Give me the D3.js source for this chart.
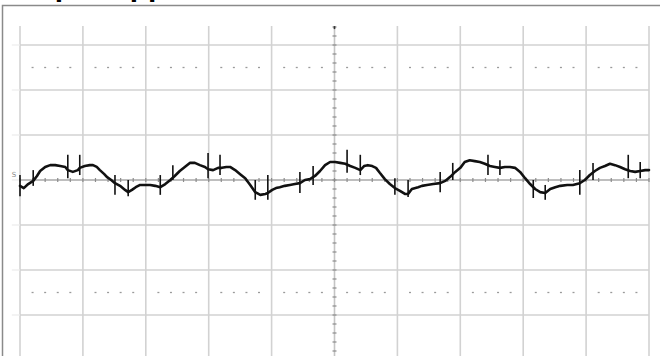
<!DOCTYPE html>
<html>
<head>
<meta charset="utf-8">
<script src="https://cdn.jsdelivr.net/npm/d3@7"></script>
<style>
  html, body { margin: 0; padding: 0; background: #fff; }
  svg { display: block; }
</style>
</head>
<body>
<div id="chart"></div>
<script>
// ---- data (time in divisions, voltage in divisions) ----
const title = "Output ripple";
const markerLabel = "S";

const traceTime = [0,0.06,0.13,0.21,0.27,0.32,0.40,0.48,0.56,0.64,0.72,0.76,0.84,0.92,0.95,1.03,1.11,1.16,1.22,1.27,
  1.34,1.38,1.45,1.51,1.59,1.67,1.72,1.78,1.84,1.91,1.99,2.07,2.15,2.23,2.31,2.39,2.46,2.54,2.62,2.70,
  2.78,2.86,2.94,2.99,3.07,3.15,3.21,3.28,3.34,3.42,3.50,3.58,3.66,3.74,3.82,3.90,3.94,4.01,4.07,4.13,
  4.21,4.29,4.37,4.45,4.53,4.61,4.69,4.77,4.85,4.93,5.01,5.09,5.17,5.25,5.33,5.41,5.47,5.53,5.60,5.66,
  5.72,5.80,5.88,5.96,6.04,6.12,6.17,6.23,6.33,6.39,6.47,6.57,6.68,6.76,6.84,6.92,7.00,7.07,7.15,7.23,
  7.31,7.39,7.47,7.55,7.63,7.71,7.79,7.87,7.95,8.03,8.11,8.19,8.27,8.35,8.43,8.51,8.59,8.70,8.79,8.90,
  8.98,9.06,9.14,9.22,9.30,9.38,9.46,9.54,9.62,9.70,9.78,9.86,9.94,10.0];
const traceVolt = [-0.13,-0.18,-0.09,-0.02,0.09,0.20,0.29,0.33,0.33,0.31,0.29,0.22,0.18,0.22,0.27,0.31,0.33,0.33,0.29,0.22,
  0.13,0.07,0,-0.07,-0.13,-0.22,-0.27,-0.22,-0.16,-0.11,-0.11,-0.11,-0.13,-0.16,-0.09,0,0.09,0.20,0.29,0.38,
  0.38,0.33,0.29,0.24,0.22,0.27,0.27,0.29,0.29,0.22,0.13,0.04,-0.11,-0.27,-0.33,-0.31,-0.29,-0.22,-0.18,-0.16,
  -0.13,-0.11,-0.09,-0.07,0,0.02,0.09,0.20,0.33,0.40,0.40,0.38,0.36,0.31,0.27,0.22,0.31,0.33,0.31,0.27,
  0.16,0.02,-0.09,-0.18,-0.24,-0.31,-0.31,-0.20,-0.16,-0.13,-0.11,-0.09,-0.07,-0.02,0.07,0.18,0.27,0.40,0.44,0.42,
  0.40,0.36,0.31,0.29,0.27,0.29,0.29,0.27,0.18,0.04,-0.09,-0.20,-0.27,-0.29,-0.20,-0.16,-0.13,-0.11,-0.11,-0.07,
  0,0.11,0.20,0.27,0.31,0.36,0.33,0.29,0.24,0.20,0.18,0.20,0.22,0.22];

const spikeTime = [0,0.21,0.76,0.95,1.51,1.72,2.23,2.43,2.99,3.18,3.74,3.94,4.45,4.66,5.20,5.41,5.96,6.17,6.68,6.88,7.44,7.63,8.16,8.35,8.90,9.11,9.67,9.86];
const spikeHigh = [0.11,0.22,0.56,0.56,0.11,0,0.11,0.33,0.60,0.56,0,0.11,0.18,0.31,0.67,0.56,0.04,0,0.18,0.38,0.56,0.44,0,-0.11,0.22,0.38,0.56,0.40];
const spikeLow  = [-0.36,-0.13,0.04,0.11,-0.33,-0.36,-0.33,0,0.04,0.11,-0.44,-0.44,-0.29,-0.11,0.16,0.11,-0.33,-0.38,-0.27,0,0.11,0.11,-0.40,-0.44,-0.33,0,0.04,0.04];

const majorX = [0,1,2,3,4,5,6,7,8,9,10];
const majorY = [-3,-2,-1,0,1,2,3];
const dottedY = [-2.5, 2.5];

// ---- drawing ----
const W = 660, H = 356;
const svg = d3.select("#chart").append("svg").attr("width", W).attr("height", H);
svg.append("rect").attr("width", W).attr("height", H).attr("fill", "#fff");

const x = d3.scaleLinear().domain([0, 10]).range([20, 649]);
const y = d3.scaleLinear().domain([-4, 4]).range([360, 0]);

// partially visible title (cut off at top, as in the source)
svg.append("text").attr("x", 3).attr("y", -4)
  .attr("font-family", "Liberation Sans, Arial, sans-serif").attr("font-weight", "bold")
  .attr("font-size", 30).attr("fill", "#000").text(title);

// document frame
svg.append("path").attr("d", "M2.5,356 V5.5 H660").attr("fill", "none")
  .attr("stroke", "#8a8a8a").attr("stroke-width", 1.5);

const grid = svg.append("g");
const gridTop = 3.42;

grid.selectAll("line.vx").data(majorX.filter(d => d !== 5)).join("line")
  .attr("x1", d => x(d)).attr("x2", d => x(d))
  .attr("y1", y(gridTop)).attr("y2", H)
  .attr("stroke", "#d2d2d2").attr("stroke-width", 1.6);

grid.selectAll("line.hy").data(majorY.filter(d => d !== 0)).join("line")
  .attr("x1", x(0)).attr("x2", x(10))
  .attr("y1", d => y(d)).attr("y2", d => y(d))
  .attr("stroke", "#d2d2d2").attr("stroke-width", 1.6);

grid.selectAll("line.ext").data(majorY).join("line")
  .attr("x1", x(-0.13)).attr("x2", x(0))
  .attr("y1", d => y(d)).attr("y2", d => y(d))
  .attr("stroke", "#ececec").attr("stroke-width", 1.2);

const minorX = d3.range(0, 50).map(i => i * 0.2).filter(v => Math.abs(v - Math.round(v)) > 0.01);
dottedY.forEach(dv => {
  grid.selectAll(null).data(minorX).join("line")
    .attr("x1", d => x(d) - 1).attr("x2", d => x(d) + 1)
    .attr("y1", y(dv)).attr("y2", y(dv))
    .attr("stroke", "#9a9a9a").attr("stroke-width", 1.3);
});

grid.append("line").attr("x1", x(0)).attr("x2", x(10)).attr("y1", y(0)).attr("y2", y(0))
  .attr("stroke", "#a8a8a8").attr("stroke-width", 1.6);
grid.append("line").attr("x1", x(5)).attr("x2", x(5)).attr("y1", y(gridTop)).attr("y2", H)
  .attr("stroke", "#c4c4c4").attr("stroke-width", 1.6);

const minorXAll = d3.range(0, 51).map(i => i * 0.2);
grid.selectAll(null).data(minorXAll).join("line")
  .attr("x1", d => x(d)).attr("x2", d => x(d))
  .attr("y1", y(0) - 2).attr("y2", y(0) + 2)
  .attr("stroke", "#8c8c8c").attr("stroke-width", 1.2);
const minorYAll = d3.range(-20, 18).map(i => i * 0.2);
grid.selectAll(null).data(minorYAll).join("line")
  .attr("x1", x(5) - 2).attr("x2", x(5) + 2)
  .attr("y1", d => y(d)).attr("y2", d => y(d))
  .attr("stroke", "#8c8c8c").attr("stroke-width", 1.2);
grid.append("line").attr("x1", x(5)).attr("x2", x(5)).attr("y1", y(gridTop)).attr("y2", y(gridTop) + 3)
  .attr("stroke", "#333").attr("stroke-width", 1.6);

svg.append("text").attr("x", x(-0.13)).attr("y", y(0.07))
  .attr("font-family", "DejaVu Sans, sans-serif").attr("font-size", 7)
  .attr("fill", "#888").text(markerLabel);

// trace
const pts = traceTime.map((t, i) => [t, traceVolt[i]]);
const line = d3.line().x(d => x(d[0])).y(d => y(d[1]));
svg.append("path").datum(pts).attr("d", line)
  .attr("fill", "none").attr("stroke", "#111").attr("stroke-width", 2.6)
  .attr("stroke-linejoin", "round").attr("stroke-linecap", "round");

// switching spikes
svg.append("g").selectAll("line").data(spikeTime).join("line")
  .attr("x1", d => x(d)).attr("x2", d => x(d))
  .attr("y1", (d, i) => y(spikeHigh[i])).attr("y2", (d, i) => y(spikeLow[i]))
  .attr("stroke", "#111").attr("stroke-width", 1.6);
</script>
</body>
</html>
